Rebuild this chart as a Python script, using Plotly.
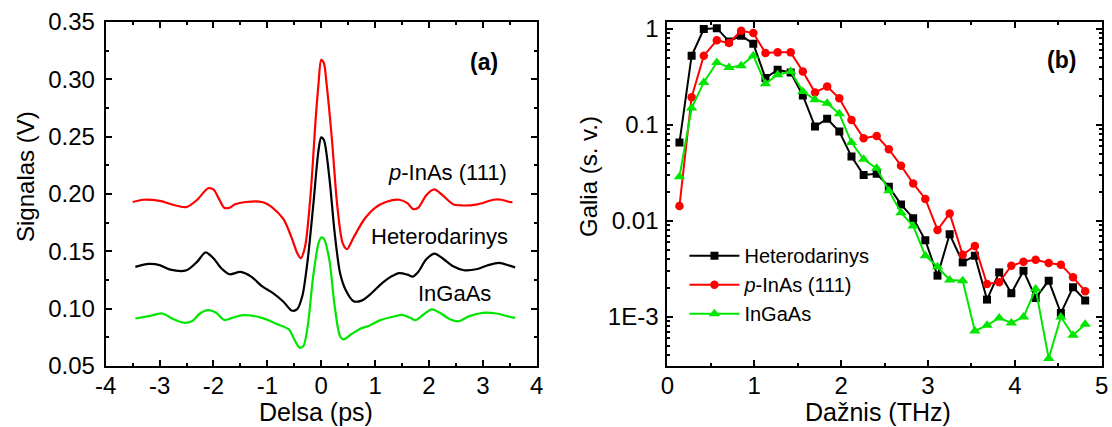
import plotly.graph_objects as go

# ---- Panel (a): time-domain signals ----
delay_p = [-3.5, -3.3, -3.0, -2.7, -2.5, -2.3, -2.1, -2.0, -1.9, -1.8, -1.7, -1.6, -1.4, -1.1,
           -0.9, -0.7, -0.55, -0.45, -0.38, -0.3, -0.2, -0.1, -0.05, 0.0, 0.05, 0.1, 0.2, 0.3,
           0.4, 0.48, 0.6, 0.8, 1.0, 1.2, 1.45, 1.6, 1.7, 1.8, 1.95, 2.1, 2.25, 2.45, 2.6, 2.9,
           3.2, 3.35, 3.5, 3.55]
sig_p = [0.193, 0.195, 0.194, 0.190, 0.1886, 0.195, 0.205, 0.204, 0.196, 0.188, 0.188, 0.191,
         0.193, 0.193, 0.188, 0.178, 0.162, 0.149, 0.144, 0.154, 0.198, 0.267, 0.296, 0.317,
         0.314, 0.296, 0.247, 0.189, 0.157, 0.152, 0.162, 0.178, 0.188, 0.193, 0.195, 0.192,
         0.187, 0.188, 0.199, 0.204, 0.199, 0.191, 0.190, 0.191, 0.195, 0.195, 0.193, 0.193]

delay_h = [-3.45, -3.2, -3.0, -2.8, -2.5, -2.3, -2.15, -2.0, -1.85, -1.7, -1.5, -1.3, -1.1,
           -0.9, -0.7, -0.55, -0.45, -0.35, -0.25, -0.15, -0.05, 0.0, 0.05, 0.15, 0.25, 0.35,
           0.45, 0.6, 0.75, 0.9, 1.1, 1.3, 1.45, 1.6, 1.7, 1.8, 1.95, 2.1, 2.25, 2.45, 2.65,
           2.9, 3.1, 3.3, 3.5, 3.6]
sig_h = [0.1364, 0.139, 0.138, 0.134, 0.1335, 0.141, 0.149, 0.144, 0.135, 0.130, 0.132, 0.128,
         0.1196, 0.1138, 0.106, 0.0984, 0.0993, 0.111, 0.1428, 0.189, 0.238, 0.2494, 0.247,
         0.215, 0.166, 0.131, 0.1167, 0.1065, 0.107, 0.112, 0.121, 0.128, 0.131, 0.1297, 0.128,
         0.132, 0.143, 0.148, 0.144, 0.137, 0.1335, 0.1346, 0.138, 0.140, 0.1375, 0.136]

delay_g = [-3.45, -3.2, -2.95, -2.75, -2.55, -2.4, -2.25, -2.1, -1.95, -1.8, -1.65, -1.45, -1.1,
           -0.8, -0.6, -0.5, -0.4, -0.33, -0.25, -0.15, -0.05, 0.0, 0.05, 0.15, 0.25, 0.35,
           0.42, 0.55, 0.7, 0.9, 1.1, 1.3, 1.5, 1.65, 1.75, 1.9, 2.05, 2.2, 2.4, 2.55, 2.75,
           3.0, 3.25, 3.45, 3.6]
sig_g = [0.0914, 0.0935, 0.0958, 0.091, 0.0877, 0.089, 0.0958, 0.0987, 0.0964, 0.0901, 0.092,
         0.0944, 0.092, 0.0862, 0.0819, 0.0732, 0.066, 0.0674, 0.0848, 0.128, 0.157, 0.162,
         0.161, 0.143, 0.1022, 0.076, 0.0732, 0.0775, 0.0819, 0.0854, 0.0900, 0.0926, 0.0946,
         0.092, 0.090, 0.0949, 0.0993, 0.0964, 0.0906, 0.089, 0.0935, 0.0964, 0.0958, 0.0935,
         0.092]

# tick labels (hyphen-minus as in the original)
delay_tickvals = [-4, -3, -2, -1, 0, 1, 2, 3, 4]
delay_ticktext = ["-4", "-3", "-2", "-1", "0", "1", "2", "3", "4"]

# ---- Panel (b): spectra ----
freq = [0.14, 0.28, 0.42, 0.57, 0.71, 0.85, 0.99, 1.13, 1.27, 1.42, 1.56, 1.70, 1.84, 1.98,
        2.12, 2.26, 2.41, 2.55, 2.69, 2.83, 2.97, 3.11, 3.25, 3.40, 3.54, 3.68, 3.82, 3.96,
        4.10, 4.24, 4.39, 4.53, 4.67, 4.81]
amp_h = [0.0656, 0.527, 1.0, 1.02, 0.743, 0.852, 0.703, 0.308, 0.376, 0.353, 0.203, 0.0964,
         0.116, 0.0855, 0.0469, 0.0302, 0.031, 0.0228, 0.0149, 0.0107, 0.0063, 0.0027, 0.00728,
         0.00371, 0.00435, 0.00152, 0.00292, 0.00177, 0.00304, 0.00158, 0.00239, 0.0011,
         0.00204, 0.00149]
amp_p = [0.0143, 0.195, 0.527, 0.762, 0.714, 0.96, 0.908, 0.562, 0.571, 0.571, 0.361, 0.218,
         0.252, 0.19, 0.113, 0.0728, 0.077, 0.0559, 0.0377, 0.0246, 0.0170, 0.00807, 0.012,
         0.00445, 0.00551, 0.00221, 0.0023, 0.00342, 0.00376, 0.00395, 0.00365, 0.00351,
         0.00259, 0.00186]
amp_g = [0.029, 0.15, 0.278, 0.449, 0.398, 0.414, 0.527, 0.269, 0.334, 0.361, 0.224, 0.183,
         0.169, 0.131, 0.0656, 0.044, 0.0354, 0.0207, 0.0122, 0.00888, 0.00435, 0.00334,
         0.00243, 0.00239, 0.000716, 0.00082, 0.00098, 0.000867, 0.001, 0.00196, 0.000371,
         0.001, 0.000646, 0.00084]
amp_tickvals = [0.001, 0.01, 0.1, 1]
amp_ticktext = ["1E-3", "0.01", "0.1", "1"]

names = ["Heterodarinys", "<i>p</i>-InAs (111)", "InGaAs"]
colors = ["#000000", "#ff0000", "#00e600"]

W, H = 1112, 427
FONT = "Arial, Liberation Sans, sans-serif"

fig = go.Figure()

# panel (a)
for xs, ys, c in [(delay_p, sig_p, colors[1]), (delay_h, sig_h, colors[0]), (delay_g, sig_g, colors[2])]:
    fig.add_trace(go.Scatter(x=xs, y=ys, mode="lines", line=dict(color=c, width=2.2, shape="spline", smoothing=0.8),
                             showlegend=False, xaxis="x", yaxis="y"))

# panel (b)
for ys, n, c, sym, sz in [(amp_h, names[0], colors[0], "square", 8),
                          (amp_p, names[1], colors[1], "circle", 8.5),
                          (amp_g, names[2], colors[2], "triangle-up", 10)]:
    fig.add_trace(go.Scatter(x=freq, y=ys, mode="lines+markers", name=n,
                             line=dict(color=c, width=2), marker=dict(color=c, symbol=sym, size=sz, line=dict(width=0)),
                             xaxis="x2", yaxis="y2"))

top_px, bot_px = 22, 366
ydom = [1 - bot_px / H, 1 - top_px / H]

axis_common = dict(showline=True, linecolor="black", linewidth=2, mirror="allticks",
                   ticks="inside", ticklen=6, tickwidth=1.5, tickcolor="black",
                   showgrid=False, zeroline=False, automargin=False,
                   tickfont=dict(family=FONT, size=24, color="black"))

fig.update_layout(
    width=W, height=H,
    margin=dict(l=0, r=0, t=0, b=0, pad=0),
    paper_bgcolor="white", plot_bgcolor="white",
    font=dict(family=FONT, color="black"),
    xaxis=dict(domain=[105.7 / W, 536.7 / W], range=[-4, 4], anchor="y",
               tickvals=delay_tickvals, ticktext=delay_ticktext,
               ticklabelstandoff=-3,
               minor=dict(ticks="inside", ticklen=3, dtick=0.5, tickwidth=1.5, tickcolor="black"),
               **axis_common),
    yaxis=dict(domain=ydom, range=[0.05, 0.35], dtick=0.05, tickformat=".2f", anchor="x",
               ticklabelstandoff=4,
               minor=dict(ticks="inside", ticklen=3, dtick=0.025, tickwidth=1.5, tickcolor="black"),
               **axis_common),
    xaxis2=dict(domain=[667.3 / W, 1101.7 / W], range=[0, 5], dtick=1, anchor="y2",
                ticklabelstandoff=-3,
                minor=dict(ticks="inside", ticklen=3, dtick=0.5, tickwidth=1.5, tickcolor="black"),
                **axis_common),
    yaxis2=dict(domain=ydom, type="log", range=[-3.51, 0.073], anchor="x2",
                ticklabelstandoff=2,
                tickvals=amp_tickvals, ticktext=amp_ticktext,
                minor=dict(ticks="inside", ticklen=3, tickwidth=1.5, tickcolor="black",
                           tickvals=[k * 10 ** e for e in range(-4, 1) for k in range(2, 10)]),
                **axis_common),
    legend=dict(x=0.6155, y=0.447, xanchor="left", yanchor="top", bgcolor="rgba(0,0,0,0)",
                font=dict(family=FONT, size=20, color="black"), tracegroupgap=0, itemwidth=50),
)

ann = []
def A(text, x, y, size=20, bold=False, xanchor="center", yanchor="middle", angle=0):
    t = f"<b>{text}</b>" if bold else text
    ann.append(dict(text=t, x=x / W, y=1 - y / H, xref="paper", yref="paper", showarrow=False,
                    xanchor=xanchor, yanchor=yanchor, textangle=angle,
                    font=dict(family=FONT, size=size, color="black")))

A("(a)", 500, 62, size=23, bold=True, xanchor="right")
A("(b)", 1078, 60, size=23, bold=True, xanchor="right")
A("<i>p</i>-InAs (111)", 509, 172, size=22, xanchor="right")
A("Heterodarinys", 510, 237, size=22, xanchor="right")
A("InGaAs", 493, 293, size=22, xanchor="right")
A("Signalas (V)", 25, 177, size=24, angle=-90)
A("Galia (s. v.)", 588, 177, size=24, angle=-90)
A("Delsa (ps)", 316, 412, size=25)
A("Dažnis (THz)", 878, 412, size=25)
fig.update_layout(annotations=ann)

fig.write_html("out.html")
